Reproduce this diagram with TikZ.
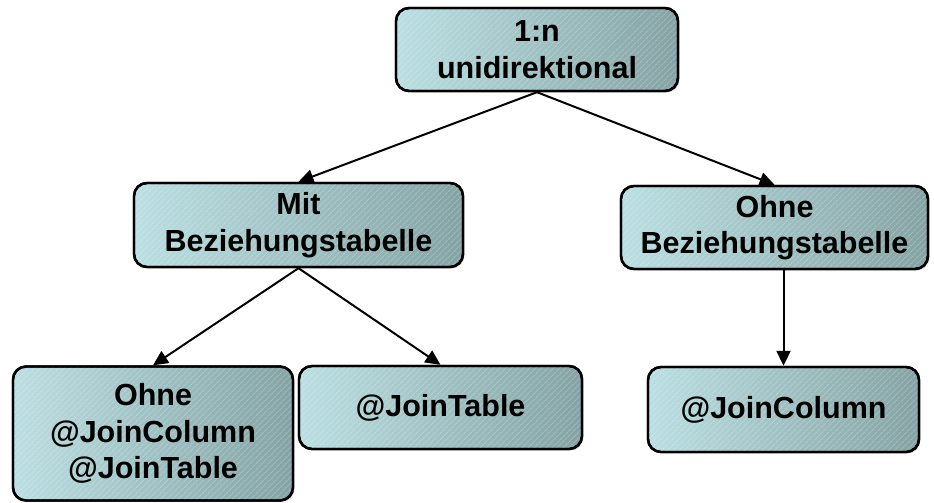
\documentclass[tikz,border=0pt]{standalone}
\usepackage{fontspec}
\setmainfont{Liberation Sans}
\usetikzlibrary{arrows.meta,patterns.meta,shadows}
\definecolor{boxlight}{HTML}{BBDFE2}
\definecolor{boxdark}{HTML}{85A3A4}
\tikzset{
  treebox/.style={
    rounded corners=13pt, line width=2.4pt, draw=black,
    left color=boxlight, right color=boxdark,
    drop shadow={shadow xshift=1.5pt, shadow yshift=-1.5pt, opacity=0.35},
    postaction={pattern={Lines[angle=45,distance=4pt,line width=0.9pt]},
                pattern color=white, fill opacity=0.22},
    postaction={draw=black, line width=2.4pt},
    align=center, inner sep=0pt,
    font=\bfseries\fontsize{30.5}{36.5}\selectfont
  },
  link/.style={line width=2pt, -{Triangle[length=15pt,width=14pt]}}
}
\begin{document}
\begin{tikzpicture}[x=1pt,y=-1pt]
  \useasboundingbox (0,0) rectangle (934,503);

  \node[treebox, minimum width=282pt, minimum height=83pt] (root) at (537,49.5) {1:n\\unidirektional};
  \node[treebox, minimum width=329pt, minimum height=84pt] (mit) at (298.5,225) {Mit\\Beziehungstabelle};
  \node[treebox, minimum width=307pt, minimum height=83pt] (ohne) at (774.5,227.5) {Ohne\\Beziehungstabelle};
  \node[treebox, minimum width=280pt, minimum height=134pt] (plain) at (153,433.5) {Ohne\\@JoinColumn\\@JoinTable};
  \node[treebox, minimum width=283pt, minimum height=83pt] (jtable) at (440.5,407.5) {@JoinTable};
  \node[treebox, minimum width=271pt, minimum height=85pt] (jcol) at (783.5,409.5) {@JoinColumn};

  \draw[link] (root.south) -- (mit.north);
  \draw[link] (root.south) -- (ohne.north);
  \draw[link] (mit.south) -- (plain.north);
  \draw[link] (mit.south) -- (jtable.north);
  \draw[link] (ohne.south -| jcol.north) -- (jcol.north);
\end{tikzpicture}
\end{document}
